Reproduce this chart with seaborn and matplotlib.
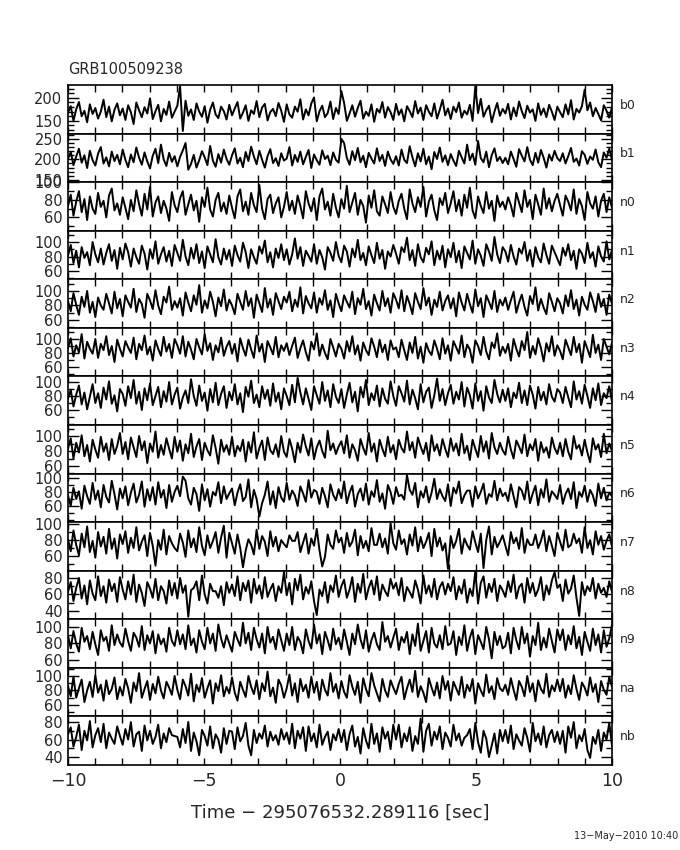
import numpy as np
import pandas as pd
import matplotlib
matplotlib.use('Agg')
import matplotlib.pyplot as plt
from matplotlib.ticker import MultipleLocator, FixedLocator
import seaborn as sns

# counts per time bin (200 bins over -10..10 s)
b0_counts = [168, 182, 150, 175, 191, 160, 172, 147, 186, 165, 178, 155, 170, 196, 158, 181, 149, 174, 188, 162,
             177, 152, 184, 169, 143, 190, 173, 158, 180, 166, 199, 154, 171, 185, 149, 176, 163, 192, 157, 170,
             183, 225, 128, 194, 161, 175, 152, 188, 170, 159, 182, 146, 174, 190, 164, 156, 181, 171, 153, 185,
             162, 177, 191, 155, 168, 184, 150, 173, 165, 193, 158, 179, 187, 151, 169, 176, 160, 189, 172, 148,
             186, 164, 157, 181, 170, 197, 153, 175, 162, 188, 201, 149, 171, 183, 158, 167, 192, 154, 178, 165,
             215, 189, 150, 166, 184, 159, 178, 194, 155, 170, 161, 186, 148, 176, 168, 191, 157, 180, 169, 152,
             187, 163, 175, 149, 182, 171, 158, 193, 166, 179, 152, 184, 170, 160, 188, 155, 174, 196, 162, 177,
             154, 181, 169, 190, 157, 172, 164, 185, 150, 225, 167, 198, 159, 173, 183, 147, 170, 189, 161, 176,
             166, 187, 153, 179, 160, 192, 171, 156, 183, 168, 175, 150, 188, 163, 177, 158, 185, 170, 152, 181,
             169, 158, 186, 164, 195, 153, 176, 168, 182, 218, 173, 190, 160, 178, 165, 151, 184, 172, 157, 180]
b1_counts = [201, 218, 186, 207, 226, 192, 210, 179, 221, 198, 185, 214, 230, 190, 205, 183, 219, 196, 211, 188,
             224, 199, 181, 212, 193, 229, 204, 187, 217, 195, 178, 209, 226, 191, 236, 200, 184, 216, 194, 208,
             183, 206, 222, 240, 175, 189, 211, 180, 198, 220, 205, 186, 233, 197, 182, 213, 192, 224, 201, 187,
             210, 227, 190, 204, 181, 218, 196, 231, 207, 188, 221, 199, 180, 208, 225, 191, 203, 184, 215, 197,
             202, 230, 185, 211, 194, 219, 188, 206, 223, 179, 212, 198, 187, 222, 201, 209, 186, 217, 199, 192,
             250, 240, 204, 187, 220, 198, 228, 193, 209, 181, 216, 202, 190, 227, 196, 211, 184, 219, 200, 189,
             208, 185, 224, 199, 191, 232, 205, 183, 215, 195, 226, 188, 207, 176, 218, 201, 229, 194, 210, 186,
             213, 197, 184, 221, 205, 190, 236, 198, 214, 187, 245, 203, 193, 219, 181, 210, 227, 196, 206, 191,
             204, 188, 219, 201, 182, 225, 209, 195, 230, 199, 186, 216, 192, 223, 204, 180, 212, 197, 221, 203,
             196, 215, 190, 208, 228, 194, 202, 185, 220, 211, 189, 207, 199, 224, 193, 181, 217, 204, 226, 198]
n0_counts = [73, 86, 62, 78, 90, 66, 81, 57, 84, 70, 64, 88, 72, 79, 60, 85, 93, 68, 76, 63,
             83, 71, 58, 80, 67, 91, 75, 62, 87, 69, 95, 61, 77, 84, 65, 79, 70, 56, 89, 74,
             66, 82, 90, 63, 75, 86, 68, 79, 55, 83, 72, 94, 69, 61, 80, 88, 67, 77, 64, 85,
             71, 59, 84, 92, 67, 78, 63, 88, 74, 66, 97, 70, 58, 81, 86, 65, 76, 83, 60, 72,
             89, 68, 79, 64, 85, 73, 59, 90, 76, 67, 82, 57, 84, 93, 69, 78, 62, 87, 71, 60,
             81, 70, 96, 66, 77, 88, 63, 80, 73, 54, 85, 71, 91, 67, 62, 84, 75, 65, 89, 72,
             64, 79, 87, 70, 58, 92, 76, 66, 83, 72, 95, 61, 78, 86, 68, 57, 82, 74, 88, 65,
             76, 90, 67, 80, 62, 86, 71, 94, 68, 59, 84, 73, 65, 89, 70, 79, 56, 85, 72, 78,
             69, 83, 74, 61, 88, 77, 66, 91, 72, 80, 58, 86, 75, 63, 93, 70, 82, 67, 79, 87,
             74, 62, 85, 78, 68, 92, 64, 81, 73, 57, 89, 76, 70, 84, 61, 79, 87, 66, 83, 71]
n1_counts = [81, 96, 71, 88, 65, 93, 78, 86, 68, 100, 83, 72, 91, 69, 85, 97, 74, 89, 63, 92,
             76, 98, 86, 66, 91, 79, 70, 95, 84, 62, 90, 77, 101, 70, 83, 93, 73, 88, 67, 96,
             85, 74, 103, 80, 68, 92, 77, 97, 71, 87, 64, 94, 83, 72, 104, 79, 69, 91, 76, 89,
             67, 95, 82, 73, 99, 86, 64, 90, 79, 70, 94, 84, 102, 72, 86, 65, 91, 78, 97, 75,
             90, 69, 83, 105, 77, 93, 67, 88, 81, 73, 97, 70, 89, 79, 62, 93, 85, 74, 100, 81,
             72, 95, 87, 66, 91, 79, 103, 75, 85, 68, 94, 82, 71, 99, 77, 89, 63, 87, 80, 96,
             84, 70, 93, 86, 106, 75, 89, 67, 97, 79, 72, 92, 83, 101, 68, 88, 76, 95, 65, 90,
             79, 99, 72, 88, 64, 94, 85, 76, 102, 70, 90, 81, 67, 97, 87, 74, 107, 83, 71, 93,
             87, 73, 96, 80, 69, 91, 84, 100, 74, 89, 66, 93, 79, 72, 98, 82, 70, 95, 86, 77,
             68, 92, 81, 97, 75, 88, 63, 90, 84, 71, 99, 78, 86, 66, 94, 80, 73, 101, 76, 89]
n2_counts = [86, 72, 97, 81, 67, 92, 78, 100, 70, 85, 64, 91, 80, 74, 96, 83, 69, 99, 76, 89,
             65, 94, 85, 77, 103, 71, 89, 82, 63, 96, 87, 75, 101, 80, 68, 92, 84, 106, 74, 86,
             77, 90, 66, 98, 84, 72, 94, 81, 108, 70, 87, 76, 99, 85, 65, 91, 79, 102, 73, 88,
             80, 68, 96, 85, 74, 100, 79, 90, 63, 95, 83, 71, 104, 77, 89, 67, 97, 86, 75, 92,
             84, 99, 72, 88, 78, 105, 69, 93, 83, 76, 98, 70, 90, 81, 101, 74, 87, 64, 96, 83,
             72, 94, 85, 77, 99, 68, 90, 81, 103, 75, 86, 66, 95, 83, 73, 100, 79, 90, 70, 97,
             88, 76, 101, 72, 93, 82, 68, 97, 85, 75, 104, 80, 91, 67, 88, 78, 99, 73, 86, 94,
             76, 90, 65, 98, 84, 73, 96, 82, 70, 102, 79, 90, 64, 94, 85, 75, 100, 71, 88, 80,
             91, 74, 87, 99, 70, 84, 95, 78, 66, 93, 82, 105, 73, 89, 77, 68, 97, 85, 72, 90,
             83, 69, 94, 79, 101, 75, 88, 66, 92, 81, 74, 98, 86, 71, 96, 78, 89, 67, 95, 82]
n3_counts = [87, 101, 75, 91, 81, 107, 72, 96, 86, 79, 100, 73, 93, 84, 104, 77, 90, 67, 99, 86,
             75, 97, 88, 80, 102, 71, 93, 84, 105, 78, 89, 69, 98, 86, 76, 103, 82, 93, 73, 100,
             91, 79, 104, 75, 96, 85, 71, 100, 88, 78, 107, 83, 94, 70, 91, 81, 102, 76, 89, 97,
             79, 93, 68, 101, 87, 76, 99, 85, 73, 105, 82, 93, 67, 97, 88, 78, 103, 74, 91, 83,
             94, 77, 90, 102, 73, 87, 98, 81, 69, 96, 85, 108, 76, 92, 80, 71, 100, 88, 75, 93,
             86, 72, 97, 82, 104, 78, 91, 69, 95, 84, 77, 101, 89, 74, 99, 81, 92, 70, 98, 85,
             88, 74, 99, 84, 70, 95, 80, 103, 72, 89, 66, 94, 83, 77, 98, 86, 71, 101, 79, 91,
             69, 97, 88, 79, 105, 74, 92, 85, 66, 98, 90, 77, 103, 82, 71, 95, 87, 108, 76, 89,
             80, 93, 69, 100, 86, 75, 97, 84, 110, 73, 90, 78, 101, 87, 68, 94, 82, 104, 76, 91,
             83, 71, 99, 88, 77, 103, 81, 93, 66, 97, 86, 74, 106, 80, 92, 70, 100, 89, 78, 95]
n4_counts = [76, 89, 65, 82, 95, 68, 85, 61, 79, 97, 70, 84, 63, 92, 75, 101, 69, 81, 58, 90,
             83, 66, 94, 77, 103, 69, 86, 60, 91, 74, 98, 67, 80, 93, 64, 87, 72, 100, 68, 82,
             92, 62, 78, 88, 70, 104, 80, 66, 95, 73, 85, 59, 90, 71, 99, 67, 83, 94, 63, 86,
             74, 97, 68, 84, 57, 93, 79, 102, 70, 82, 64, 94, 76, 89, 66, 98, 72, 85, 61, 91,
             80, 67, 96, 71, 106, 85, 68, 91, 76, 60, 94, 81, 69, 100, 73, 88, 64, 97, 79, 70,
             90, 63, 82, 99, 71, 86, 58, 93, 78, 103, 67, 84, 74, 95, 65, 91, 76, 69, 101, 80,
             66, 94, 84, 72, 102, 68, 89, 77, 61, 97, 71, 86, 92, 63, 81, 105, 73, 90, 67, 84,
             96, 69, 86, 75, 100, 65, 92, 81, 62, 98, 73, 87, 59, 94, 78, 70, 103, 83, 71, 89,
             73, 91, 64, 85, 77, 99, 70, 88, 67, 95, 82, 62, 93, 74, 86, 68, 97, 79, 72, 90,
             85, 70, 93, 78, 64, 101, 75, 87, 69, 96, 80, 63, 91, 74, 98, 67, 84, 77, 94, 72]
n5_counts = [83, 97, 70, 91, 78, 101, 73, 88, 66, 95, 82, 71, 99, 79, 90, 68, 96, 76, 87, 104,
             76, 92, 69, 98, 85, 72, 100, 81, 93, 64, 90, 79, 106, 71, 88, 75, 97, 83, 70, 99,
             79, 94, 67, 89, 77, 103, 72, 86, 96, 68, 91, 81, 74, 101, 84, 63, 95, 79, 88, 75,
             99, 73, 87, 80, 95, 66, 92, 78, 105, 70, 84, 94, 68, 98, 81, 76, 89, 72, 100, 79,
             72, 96, 83, 65, 91, 78, 102, 86, 74, 97, 69, 85, 94, 80, 71, 107, 81, 90, 76, 86,
             93, 77, 101, 71, 89, 81, 67, 96, 84, 75, 104, 79, 90, 66, 95, 83, 73, 99, 78, 88,
             69, 95, 84, 78, 106, 81, 92, 71, 98, 86, 76, 91, 67, 101, 80, 89, 74, 96, 83, 72,
             97, 80, 90, 74, 103, 77, 87, 68, 95, 83, 72, 100, 79, 93, 70, 104, 85, 76, 91, 81,
             75, 99, 82, 70, 94, 86, 77, 102, 73, 89, 81, 96, 67, 92, 78, 85, 71, 98, 84, 76,
             91, 73, 96, 79, 69, 100, 83, 88, 74, 95, 78, 65, 97, 82, 89, 72, 103, 77, 90, 80]
n6_counts = [75, 60, 86, 70, 81, 56, 89, 74, 63, 93, 69, 82, 58, 90, 73, 65, 96, 77, 55, 85,
             71, 88, 61, 79, 92, 65, 76, 95, 59, 84, 68, 87, 62, 94, 72, 83, 57, 90, 66, 80,
             89, 74, 102, 96, 71, 62, 86, 77, 53, 91, 68, 84, 59, 80, 75, 94, 64, 88, 70, 78,
             85, 61, 79, 91, 67, 73, 98, 58, 83, 70, 45, 64, 76, 95, 62, 81, 57, 87, 72, 66,
             93, 69, 82, 75, 60, 88, 78, 66, 97, 72, 83, 80, 63, 86, 74, 58, 91, 76, 68, 84,
             71, 95, 64, 79, 89, 59, 77, 85, 68, 92, 62, 81, 73, 97, 66, 78, 56, 90, 80, 63,
             87, 74, 76, 69, 104, 83, 76, 93, 58, 81, 72, 88, 65, 79, 99, 70, 84, 74, 67, 91,
             60, 86, 78, 95, 64, 75, 82, 82, 59, 88, 71, 80, 92, 63, 77, 73, 96, 68, 85, 74,
             79, 67, 91, 74, 58, 87, 82, 69, 95, 64, 78, 89, 61, 84, 72, 98, 66, 81, 76, 70,
             90, 63, 77, 85, 70, 94, 57, 80, 73, 89, 66, 83, 75, 60, 92, 71, 86, 68, 79, 74]
n7_counts = [81, 66, 92, 74, 61, 88, 71, 97, 65, 79, 58, 90, 72, 84, 63, 94, 69, 82, 57, 87,
             75, 91, 64, 83, 70, 96, 67, 78, 86, 60, 89, 73, 48, 80, 68, 93, 62, 85, 76, 70,
             66, 88, 77, 59, 92, 71, 82, 65, 96, 73, 61, 86, 70, 79, 90, 64, 83, 98, 58, 89,
             76, 63, 87, 70, 46, 67, 81, 74, 62, 93, 69, 85, 78, 60, 91, 72, 84, 66, 80, 75,
             71, 86, 79, 79, 90, 65, 77, 88, 63, 82, 73, 94, 67, 47, 59, 87, 74, 69, 92, 77,
             83, 64, 89, 72, 78, 93, 61, 85, 70, 79, 66, 95, 74, 74, 88, 71, 82, 63, 101, 76,
             68, 92, 75, 81, 62, 87, 73, 96, 66, 84, 70, 78, 89, 60, 94, 72, 83, 67, 76, 44,
             85, 70, 79, 94, 63, 82, 74, 68, 91, 77, 65, 88, 45, 80, 97, 62, 84, 71, 78, 86,
             73, 61, 90, 76, 83, 69, 95, 64, 81, 74, 74, 87, 70, 79, 92, 66, 85, 73, 60, 89,
             78, 67, 93, 71, 74, 88, 76, 82, 64, 96, 70, 80, 62, 91, 74, 85, 68, 79, 87, 72]
n8_counts = [63, 75, 52, 68, 80, 55, 71, 48, 77, 61, 53, 82, 58, 70, 50, 78, 64, 73, 51, 81,
             66, 54, 76, 60, 84, 51, 72, 62, 46, 75, 67, 56, 79, 53, 70, 64, 49, 77, 59, 74,
             55, 80, 62, 71, 33, 65, 68, 76, 53, 83, 60, 49, 73, 64, 64, 56, 70, 47, 75, 62,
             72, 58, 82, 53, 74, 64, 77, 50, 79, 61, 71, 55, 81, 57, 66, 73, 52, 70, 62, 87,
             59, 74, 48, 79, 65, 84, 54, 69, 61, 76, 52, 35, 66, 58, 75, 50, 71, 63, 83, 57,
             70, 78, 56, 66, 81, 51, 73, 62, 85, 54, 68, 77, 60, 82, 53, 72, 64, 58, 79, 67,
             74, 59, 80, 52, 69, 63, 56, 77, 66, 49, 83, 61, 71, 57, 79, 54, 69, 75, 60, 73,
             64, 81, 54, 70, 61, 78, 50, 67, 58, 88, 49, 74, 82, 56, 73, 63, 79, 52, 71, 65,
             57, 76, 63, 84, 55, 69, 73, 50, 80, 62, 74, 58, 66, 81, 53, 71, 60, 77, 87, 68,
             72, 52, 78, 61, 67, 83, 56, 34, 75, 59, 70, 64, 80, 55, 73, 62, 68, 57, 76, 63]
n9_counts = [90, 74, 95, 80, 70, 99, 82, 89, 73, 94, 79, 66, 96, 83, 88, 71, 102, 78, 91, 81,
             76, 98, 83, 71, 93, 87, 76, 101, 72, 90, 80, 95, 68, 91, 79, 86, 70, 99, 83, 77,
             96, 79, 91, 73, 102, 78, 86, 69, 96, 82, 73, 99, 80, 92, 71, 103, 86, 75, 90, 80,
             70, 94, 85, 77, 105, 80, 93, 72, 99, 85, 75, 92, 68, 100, 81, 88, 73, 97, 84, 71,
             92, 78, 100, 72, 88, 82, 68, 97, 83, 74, 103, 80, 91, 67, 94, 84, 72, 98, 79, 87,
             73, 97, 82, 66, 92, 79, 103, 85, 74, 96, 70, 84, 93, 79, 72, 106, 82, 89, 75, 87,
             98, 72, 88, 81, 94, 67, 91, 77, 104, 71, 83, 95, 69, 99, 80, 75, 90, 73, 101, 78,
             80, 95, 66, 88, 78, 102, 71, 87, 97, 67, 90, 82, 73, 100, 85, 62, 94, 78, 89, 74,
             77, 93, 68, 99, 84, 73, 100, 80, 92, 64, 89, 78, 105, 72, 87, 75, 98, 83, 69, 97,
             84, 97, 72, 90, 79, 101, 74, 88, 66, 94, 82, 71, 98, 78, 91, 69, 96, 76, 86, 103]
na_counts = [86, 72, 99, 70, 83, 95, 64, 80, 92, 71, 101, 77, 88, 66, 94, 75, 82, 98, 68, 85,
             73, 96, 83, 63, 91, 79, 104, 70, 82, 93, 67, 89, 76, 99, 80, 69, 92, 84, 74, 100,
             81, 68, 95, 86, 73, 103, 65, 88, 78, 97, 70, 83, 94, 62, 90, 79, 101, 72, 85, 76,
             98, 77, 66, 92, 81, 71, 100, 85, 75, 94, 68, 90, 79, 106, 72, 84, 63, 95, 87, 70,
             83, 102, 73, 90, 64, 96, 79, 88, 70, 99, 77, 92, 67, 95, 81, 73, 104, 78, 89, 69,
             93, 78, 70, 101, 85, 74, 92, 63, 97, 82, 72, 104, 87, 76, 65, 96, 80, 71, 94, 84,
             75, 89, 99, 68, 83, 95, 78, 107, 71, 86, 77, 64, 97, 84, 73, 91, 69, 100, 81, 93,
             66, 92, 83, 74, 99, 70, 88, 79, 96, 62, 90, 80, 72, 102, 77, 86, 68, 97, 83, 79,
             88, 74, 97, 81, 67, 93, 85, 72, 100, 78, 90, 65, 94, 82, 76, 103, 71, 87, 79, 95,
             79, 96, 70, 87, 75, 101, 82, 67, 91, 84, 73, 98, 78, 89, 64, 93, 81, 74, 99, 85]
nb_counts = [66, 74, 52, 63, 77, 48, 70, 59, 81, 51, 65, 73, 57, 78, 50, 68, 61, 55, 75, 64,
             54, 72, 60, 80, 52, 66, 69, 47, 76, 59, 70, 55, 63, 77, 50, 67, 57, 73, 65, 64,
             63, 51, 72, 56, 80, 47, 68, 58, 42, 71, 64, 53, 75, 50, 66, 60, 45, 73, 55, 70,
             69, 49, 74, 58, 64, 79, 53, 42, 71, 56, 67, 61, 76, 52, 69, 59, 65, 54, 72, 60,
             68, 55, 78, 50, 70, 61, 74, 47, 75, 58, 67, 51, 77, 54, 63, 69, 48, 66, 59, 72,
             57, 71, 48, 66, 76, 52, 63, 44, 73, 59, 50, 78, 55, 67, 46, 74, 61, 69, 49, 77,
             60, 77, 51, 67, 58, 74, 47, 64, 55, 84, 46, 70, 78, 53, 69, 60, 75, 49, 68, 62,
             52, 77, 59, 67, 53, 62, 65, 72, 49, 79, 57, 45, 70, 61, 40, 53, 67, 44, 71, 58,
             71, 56, 76, 49, 66, 59, 53, 73, 62, 46, 79, 58, 67, 54, 75, 51, 65, 71, 57, 69,
             55, 70, 45, 75, 62, 80, 50, 65, 58, 72, 48, 39, 63, 55, 71, 47, 68, 60, 79, 53]

detectors = ['b0', 'b1', 'n0', 'n1', 'n2', 'n3', 'n4', 'n5', 'n6', 'n7', 'n8', 'n9', 'na', 'nb']
counts = [b0_counts, b1_counts, n0_counts, n1_counts, n2_counts, n3_counts, n4_counts,
          n5_counts, n6_counts, n7_counts, n8_counts, n9_counts, na_counts, nb_counts]
# y-axis ranges and labelled ticks per detector
y_ranges = [(122.4, 228), (144.5, 263), (44.8, 100.3), (48.6, 115.6), (49.1, 116.1),
            (46.5, 115.9), (38.6, 108), (49.9, 114.7), (36.9, 106.3), (41.7, 102.4),
            (29.9, 88.8), (50.4, 109.3), (44.2, 111.2), (30.9, 86.4)]
y_ticks = [[150, 200], [150, 200, 250], [60, 80, 100], [60, 80, 100], [60, 80, 100],
           [60, 80, 100], [60, 80, 100], [60, 80, 100], [60, 80, 100], [60, 80, 100],
           [40, 60, 80], [60, 80, 100], [60, 80, 100], [40, 60, 80]]

time = np.linspace(-10, 10, 200)

sns.set_style('ticks')
plt.rcParams['font.family'] = ['DejaVu Sans']

fig, axes = plt.subplots(len(detectors), 1, figsize=(6.8, 8.5), dpi=100, sharex=True)
fig.subplots_adjust(left=0.1, right=0.9, top=0.9, bottom=0.1, hspace=0)

for ax, det, cnt, yr, yt in zip(axes, detectors, counts, y_ranges, y_ticks):
    df = pd.DataFrame({'time': time, 'counts': cnt})
    sns.lineplot(data=df, x='time', y='counts', ax=ax, color='black', lw=1.4,
                 estimator=None)
    ax.set_xlim(-10, 10)
    ax.set_ylim(*yr)
    ax.yaxis.set_major_locator(FixedLocator(yt))
    ax.yaxis.set_minor_locator(MultipleLocator(10))
    ax.xaxis.set_major_locator(MultipleLocator(5))
    ax.xaxis.set_minor_locator(MultipleLocator(1))
    ax.tick_params(which='both', direction='in', top=True, right=True, color='black', width=1)
    ax.tick_params(axis='x', which='both', length=5)
    ax.tick_params(axis='y', which='major', length=8, labelsize=10.5, pad=4)
    ax.tick_params(axis='y', which='minor', length=4)
    ax.set_ylabel('')
    ax.set_xlabel('')
    for s in ax.spines.values():
        s.set_color('black')
        s.set_linewidth(1.2)
    ax.text(1.015, 0.58, det, transform=ax.transAxes, fontsize=9, va='center', ha='left')

axes[-1].tick_params(axis='x', labelsize=12.5, pad=5)
axes[-1].set_xlabel('Time \u2212 295076532.289116 [sec]', fontsize=13, labelpad=10)
axes[0].set_title('GRB100509238', loc='left', fontsize=10.5, pad=8)
fig.text(0.997, 0.016, '13\u2212May\u22122010 10:40', fontsize=7, ha='right', va='center')

fig.savefig('out.png', dpi=100)
